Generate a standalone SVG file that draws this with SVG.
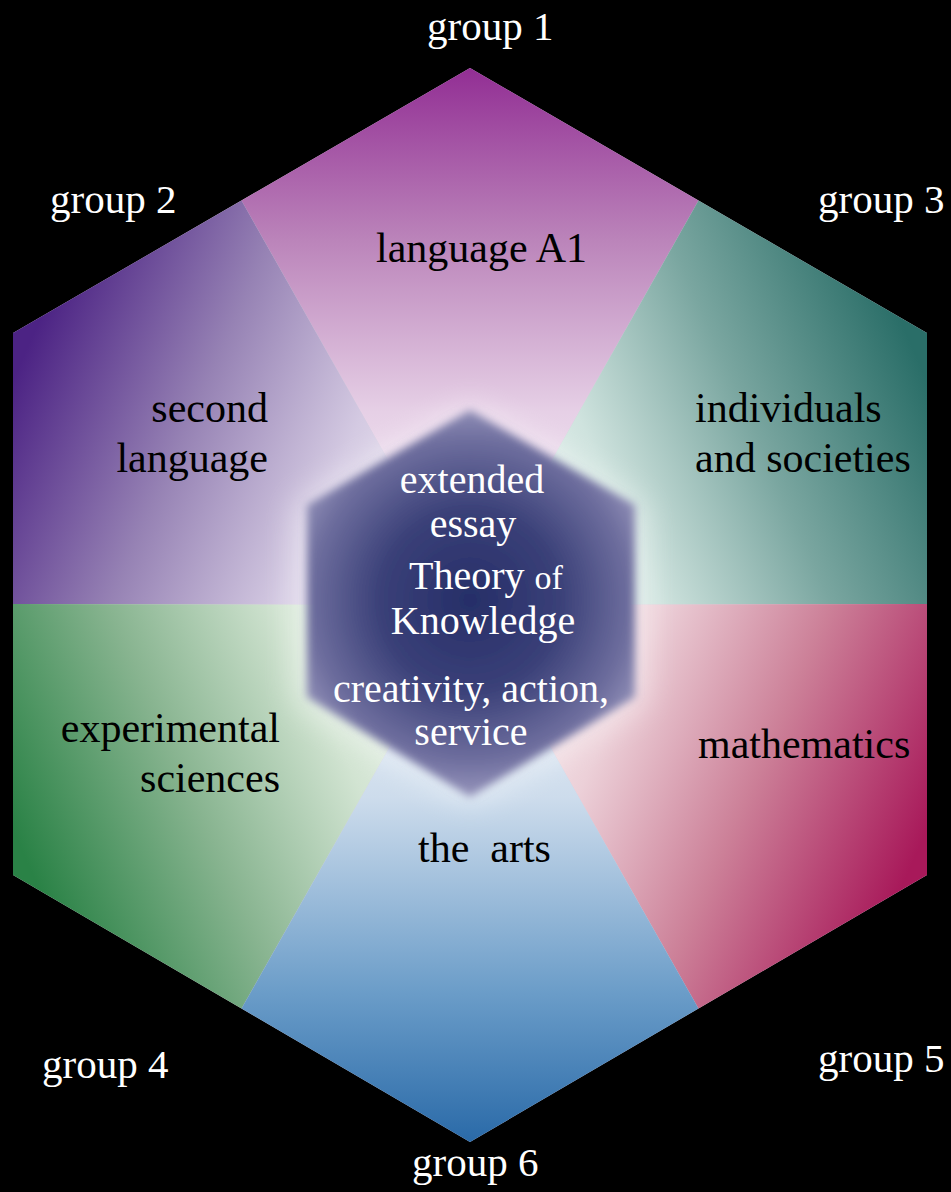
<svg xmlns="http://www.w3.org/2000/svg" width="951" height="1192" viewBox="0 0 951 1192">
<style>
.lbl{font-family:"Liberation Serif","Times New Roman",serif;font-size:42px;fill:#000}
.grp{font-family:"Liberation Serif","Times New Roman",serif;font-size:41px;fill:#fff}
.core{font-family:"Liberation Serif","Times New Roman",serif;font-size:40px;fill:#fff;text-anchor:middle}
.seg{stroke:none}
</style>
<defs>
<linearGradient id="g1" gradientUnits="userSpaceOnUse" x1="470" y1="68" x2="470" y2="560">
<stop offset="0" stop-color="#922e94"/><stop offset="0.35" stop-color="#bb84ba"/><stop offset="0.7" stop-color="#e6d0e6"/><stop offset="1" stop-color="#f6eef6"/>
</linearGradient>
<linearGradient id="g2" gradientUnits="userSpaceOnUse" x1="13" y1="380" x2="420" y2="560">
<stop offset="0" stop-color="#4c2384"/><stop offset="0.4" stop-color="#9682b4"/><stop offset="0.75" stop-color="#d4cae2"/><stop offset="1" stop-color="#efeaf4"/>
</linearGradient>
<linearGradient id="g3" gradientUnits="userSpaceOnUse" x1="927" y1="380" x2="520" y2="560">
<stop offset="0" stop-color="#2a6e68"/><stop offset="0.4" stop-color="#7aa6a0"/><stop offset="0.75" stop-color="#cfe3de"/><stop offset="1" stop-color="#eef6f4"/>
</linearGradient>
<linearGradient id="g4" gradientUnits="userSpaceOnUse" x1="13" y1="830" x2="420" y2="650">
<stop offset="0" stop-color="#2a8246"/><stop offset="0.4" stop-color="#88b490"/><stop offset="0.75" stop-color="#d2e4d2"/><stop offset="1" stop-color="#eef5ee"/>
</linearGradient>
<linearGradient id="g5" gradientUnits="userSpaceOnUse" x1="927" y1="830" x2="520" y2="650">
<stop offset="0" stop-color="#a8195a"/><stop offset="0.4" stop-color="#cc8098"/><stop offset="0.75" stop-color="#ecd0d8"/><stop offset="1" stop-color="#f8eef0"/>
</linearGradient>
<linearGradient id="g6" gradientUnits="userSpaceOnUse" x1="470" y1="1142" x2="470" y2="650">
<stop offset="0" stop-color="#2a6aa8"/><stop offset="0.3" stop-color="#6a9cc8"/><stop offset="0.7" stop-color="#cddcec"/><stop offset="1" stop-color="#eef2f8"/>
</linearGradient>
<radialGradient id="gc" gradientUnits="userSpaceOnUse" cx="470" cy="600" r="200">
<stop offset="0" stop-color="#262e68"/><stop offset="0.45" stop-color="#3a4078"/><stop offset="0.8" stop-color="#6e6e9e"/><stop offset="1" stop-color="#9a98be"/>
</radialGradient>
<filter id="soft" x="-20%" y="-20%" width="140%" height="140%">
<feGaussianBlur stdDeviation="4"/>
</filter>
<filter id="glow" x="-30%" y="-30%" width="160%" height="160%">
<feGaussianBlur stdDeviation="16"/>
</filter>
</defs>
<rect width="951" height="1192" fill="#000"/>
<polygon fill="#d8d0dc" points="470,68 927,333 927,875 470,1142 13,875 13,333"/>

<g id="group1">
<polygon class="seg" fill="url(#g1)" points="470,605 241.5,200.5 470,68 698.5,200.5"/>
<text class="grp" x="427" y="40">group 1</text>
<text class="lbl" x="376" y="262">language A1</text>
</g>
<g id="group2">
<polygon class="seg" fill="url(#g2)" points="470,605 241.5,200.5 13,333 13,604"/>
<text class="grp" x="50" y="213">group 2</text>
<text class="lbl" text-anchor="end" x="268" y="422">second</text>
<text class="lbl" text-anchor="end" x="268" y="472">language</text>
</g>
<g id="group3">
<polygon class="seg" fill="url(#g3)" points="470,605 698.5,200.5 927,333 927,604"/>
<text class="grp" x="818" y="213">group 3</text>
<text class="lbl" x="695" y="422">individuals</text>
<text class="lbl" x="695" y="472">and societies</text>
</g>
<g id="group4">
<polygon class="seg" fill="url(#g4)" points="470,605 13,604 13,875 241.5,1008.5"/>
<text class="grp" x="42" y="1078">group 4</text>
<text class="lbl" text-anchor="end" x="280" y="742">experimental</text>
<text class="lbl" text-anchor="end" x="280" y="792">sciences</text>
</g>
<g id="group5">
<polygon class="seg" fill="url(#g5)" points="470,605 927,604 927,875 698.5,1008.5"/>
<text class="grp" x="818" y="1072">group 5</text>
<text class="lbl" x="698" y="758">mathematics</text>
</g>
<g id="group6">
<polygon class="seg" fill="url(#g6)" points="470,605 241.5,1008.5 470,1142 698.5,1008.5"/>
<text class="grp" x="412" y="1176">group 6</text>
<text class="lbl" x="418" y="862" style="white-space:pre">the  arts</text>
</g>

<g id="core">
<polygon fill="#ffffff" opacity="0.5" filter="url(#glow)" points="470,404 644,505 644,703 470,804 296,703 296,505"/>
<polygon fill="url(#gc)" filter="url(#soft)" points="470,410 635,505 635,697 470,797 307,697 307,505"/>
<text class="core" x="472" y="493">extended</text>
<text class="core" x="473" y="537">essay</text>
<text class="core" x="486" y="589">Theory <tspan style="font-size:34px">of</tspan></text>
<text class="core" x="483" y="634">Knowledge</text>
<text class="core" x="471" y="702">creativity, action,</text>
<text class="core" x="471" y="745">service</text>
</g>

<g id="connectors"></g>
</svg>
